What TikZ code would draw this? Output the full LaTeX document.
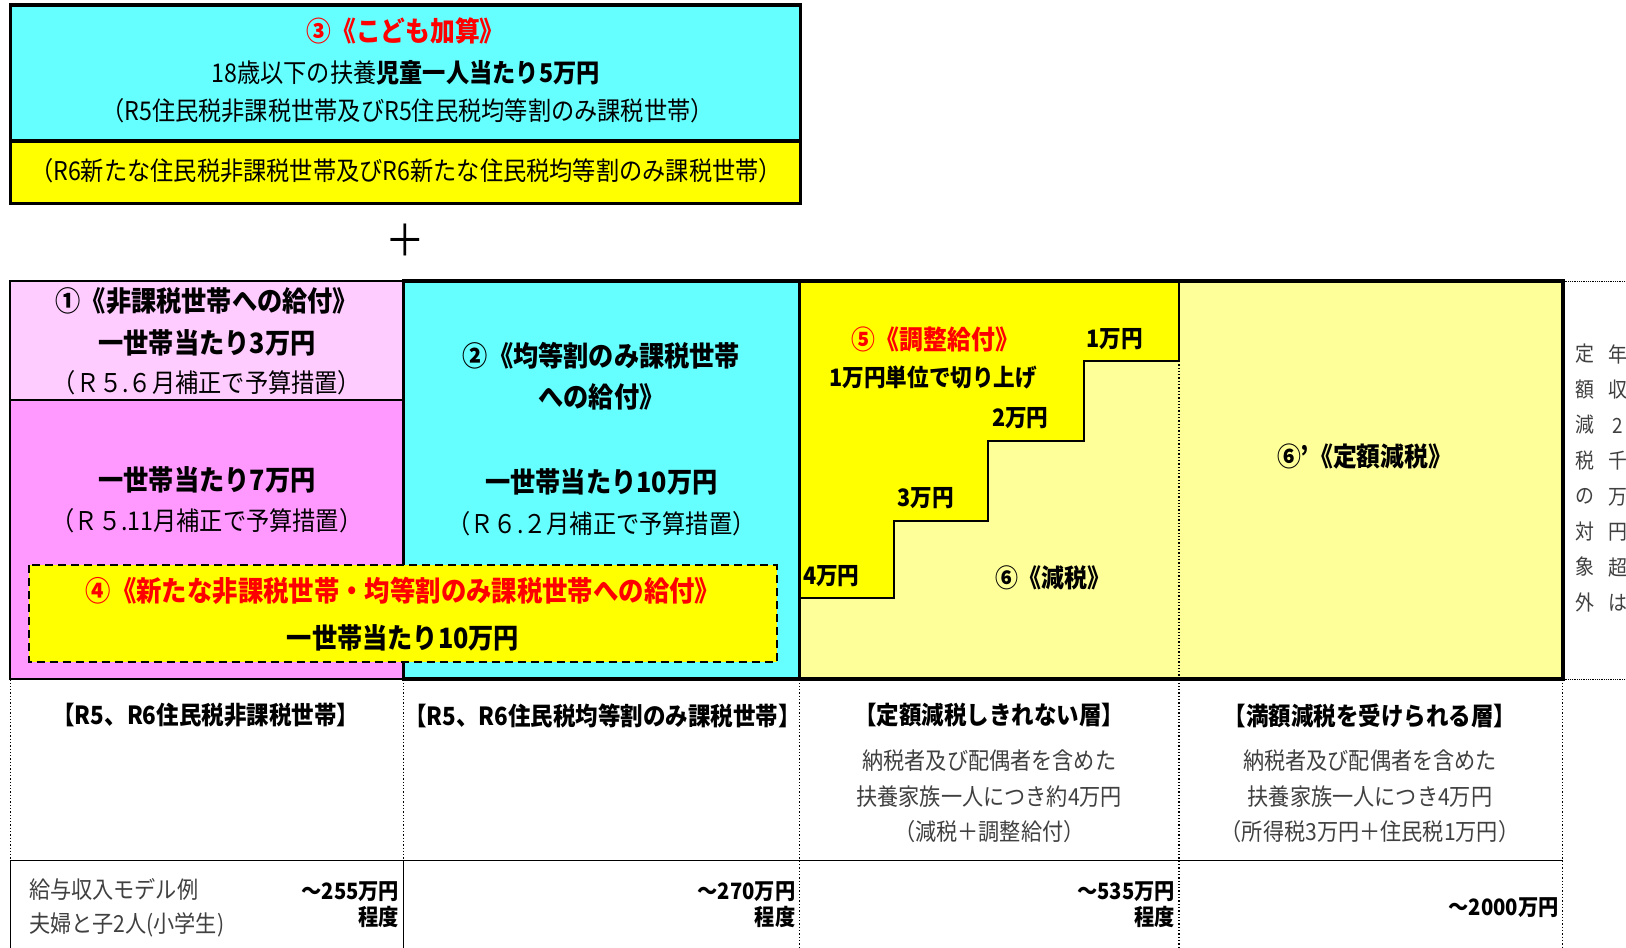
\documentclass[tikz,border=0pt]{standalone}
\usepackage{fontspec}
\newfontfamily\jp{Noto Sans CJK JP}[FakeStretch=0.9]
\definecolor{pinkL}{HTML}{FFCCFF}
\definecolor{pinkD}{HTML}{FF99FF}
\definecolor{cyanC}{HTML}{66FFFF}
\definecolor{ylY}{HTML}{FFFF00}
\definecolor{ylL}{HTML}{FFFF99}
\definecolor{txtg}{HTML}{404040}
\definecolor{redT}{HTML}{FF0000}
\tikzset{
  base/.style={inner sep=0pt, outer sep=0pt},
  tn/.style={base, font=\jp\fontsize{25.8}{30}\selectfont},
  tb/.style={base, font=\jp\bfseries\fontsize{28}{30}\selectfont},
  tr/.style={tb, text=redT},
  tsm/.style={base, text=txtg, font=\jp\fontsize{23.5}{28}\selectfont},
  th/.style={base, font=\jp\bfseries\fontsize{25}{28}\selectfont},
  tstep/.style={base, font=\jp\bfseries\fontsize{24}{28}\selectfont},
  tamt/.style={base, anchor=east, font=\jp\bfseries\fontsize{22.5}{26}\selectfont},
  tvert/.style={base, align=center, text=txtg, font=\jp\fontsize{21}{35.56}\selectfont},
  thick frame/.style={line width=3.5pt},
  mid frame/.style={line width=2pt},
  dotline/.style={line width=1.3pt, dotted},
}
\begin{document}
\begin{tikzpicture}[x=1pt,y=-1pt]
\useasboundingbox (0,0) rectangle (1626,948);
\fill[white] (0,0) rectangle (1626,948);

% ---------- top box ----------
\fill[cyanC] (10.4,5.2) rectangle (800.6,141);
\fill[ylY] (10.4,141) rectangle (800.6,203.3);
\draw[thick frame] (10.4,5.2) rectangle (800.6,203.3);
\draw[thick frame] (10.4,141) -- (800.6,141);
\node[tr, font=\jp\bfseries\fontsize{27.5}{30}\selectfont] (t3) at (405.5,31.1) {③《こども加算》};
\node[tn] (t3a) at (405.5,72.6) {18歳以下の扶養\textbf{児童一人当たり5万円}};
\node[tn] (t3b) at (407.5,111) {（R5住民税非課税世帯及びR5住民税均等割のみ課税世帯）};
\node[tn] (t3c) at (406,171) {（R6新たな住民税非課税世帯及びR6新たな住民税均等割のみ課税世帯）};
\node[base, font=\jp\fontsize{44}{44}\selectfont] (plus) at (405.5,240.6) {＋};

% ---------- main table fills ----------
\fill[pinkL] (10.4,281) rectangle (403.4,400.3);
\fill[pinkD] (10.4,400.3) rectangle (403.4,679.2);
\fill[cyanC] (403.4,281) rectangle (799.5,679.2);
\fill[ylL] (799.5,281) rectangle (1562.8,679.2);
\fill[ylY] (799.5,281) -- (1179,281) -- (1179,360.9) -- (1083.7,360.9) -- (1083.7,440.7)
  -- (988.3,440.7) -- (988.3,520.6) -- (894,520.6) -- (894,598.3) -- (799.5,598.3) -- cycle;

% ---------- main table lines ----------
\draw[mid frame] (10.4,281) rectangle (403.4,679.2);
\draw[mid frame] (10.4,400.3) -- (403.4,400.3);
\draw[thick frame] (403.4,281) rectangle (1562.8,679.2);
\draw[thick frame] (799.5,281) -- (799.5,679.2);
\draw[mid frame] (799.5,598.3) -- (894,598.3) -- (894,520.6) -- (988.3,520.6) -- (988.3,440.7)
  -- (1083.7,440.7) -- (1083.7,360.9) -- (1179,360.9) -- (1179,281);
\draw[dotline] (1179,360.9) -- (1179,679.2);
\draw[line width=0.8pt, densely dotted] (1564.5,281) -- (1626,281);
\draw[line width=0.8pt, densely dotted] (1564.5,679.2) -- (1626,679.2);

% ---------- column texts ----------
\node[tb] (c1a) at (207,300.7) {①《非課税世帯への給付》};
\node[tb] (c1b) at (207,343.2) {一世帯当たり3万円};
\node[tn] (c1c) at (207,382.6) {（Ｒ５.６月補正で予算措置）};
\node[tb] (c1d) at (207,480.1) {一世帯当たり7万円};
\node[tn] (c1e) at (207,520.6) {（Ｒ５.11月補正で予算措置）};

\node[tb] (c2a) at (601.5,355.7) {②《均等割のみ課税世帯};
\node[tb] (c2b) at (601.5,397.2) {への給付》};
\node[tb] (c2c) at (601.5,482.2) {一世帯当たり10万円};
\node[tn] (c2d) at (601.5,523.7) {（Ｒ６.２月補正で予算措置）};

% dashed box 4
\draw[fill=ylY, line width=2pt, dash pattern=on 8pt off 5pt] (29,565.2) rectangle (776.7,661.6);
\node[tr, font=\jp\bfseries\fontsize{28.2}{30}\selectfont] (c4a) at (403,591) {④《新たな非課税世帯・均等割のみ課税世帯への給付》};
\node[tb] (c4b) at (403,637.8) {一世帯当たり10万円};

% column 3/4
\node[tr, font=\jp\bfseries\fontsize{26.5}{30}\selectfont] (c5a) at (935.4,339.1) {⑤《調整給付》};
\node[tstep] (s1) at (1114.8,339.1) {1万円};
\node[tstep] (c5b) at (933.3,377.5) {1万円単位で切り上げ};
\node[tstep] (s2) at (1020.4,417.9) {2万円};
\node[tstep] (s3) at (926,497.8) {3万円};
\node[tstep, anchor=west] (s4) at (803.2,576.6) {4万円};
\node[base, font=\jp\bfseries\fontsize{25.5}{30}\selectfont] (c6) at (1052.6,577.6) {⑥《減税》};
\node[base, font=\jp\bfseries\fontsize{26.5}{30}\selectfont] (c6p) at (1364.7,456.3) {⑥’《定額減税》};

% vertical note
\node[tvert] (v1) at (1584.5,478) {定\\額\\減\\税\\の\\対\\象\\外};
\node[tvert] (v2) at (1617.7,478) {年\\収\\2\\千\\万\\円\\超\\は};

% ---------- bottom table ----------
\draw[dotline] (10.4,679.2) -- (10.4,860.7);
\draw[dotline] (403.4,679.2) -- (403.4,860.7);
\draw[dotline] (799.5,679.2) -- (799.5,948);
\draw[dotline] (1179,679.2) -- (1179,948);
\draw[dotline] (1562.8,679.2) -- (1562.8,948);
\draw[line width=1pt] (10.4,860.7) -- (10.4,948);
\draw[line width=1pt] (403.4,860.7) -- (403.4,948);
\draw[line width=1.2pt] (10.4,860.7) -- (1562.8,860.7);

\node[th] (b1) at (205.8,715.5) {【R5、R6住民税非課税世帯】};
\node[th] (b2) at (602.5,715.5) {【R5、R6住民税均等割のみ課税世帯】};
\node[th] (b3) at (989.3,715.5) {【定額減税しきれない層】};
\node[tsm] (b3a) at (989.3,760.1) {納税者及び配偶者を含めた};
\node[tsm] (b3b) at (989.3,796.4) {扶養家族一人につき約4万円};
\node[tsm] (b3c) at (989.3,831.7) {（減税＋調整給付）};
\node[th] (b4) at (1370,715.5) {【満額減税を受けられる層】};
\node[tsm] (b4a) at (1370,760.1) {納税者及び配偶者を含めた};
\node[tsm] (b4b) at (1370,796.4) {扶養家族一人につき4万円};
\node[tsm] (b4c) at (1370,831.7) {（所得税3万円＋住民税1万円）};

\node[tsm, anchor=west] (m1) at (29,889.7) {給与収入モデル例};
\node[tsm, anchor=west] (m2) at (29,925) {夫婦と子2人(小学生)};
\node[tamt] (a1) at (399.2,891.8) {～255万円};
\node[tamt] (a1b) at (399.2,916.7) {程度};
\node[tamt] (a2) at (795.4,891.8) {～270万円};
\node[tamt] (a2b) at (795.4,916.7) {程度};
\node[tamt] (a3) at (1175,891.8) {～535万円};
\node[tamt] (a3b) at (1175,916.7) {程度};
\node[tamt] (a4) at (1558.6,907.4) {～2000万円};
\end{tikzpicture}
\end{document}
